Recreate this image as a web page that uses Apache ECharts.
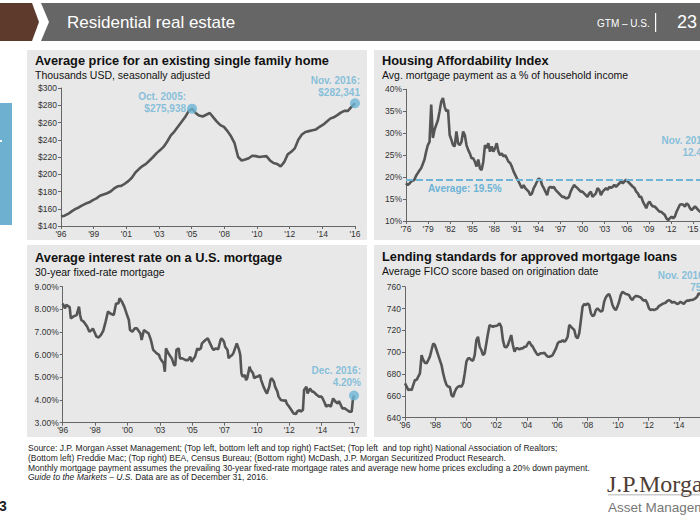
<!DOCTYPE html>
<html><head><meta charset="utf-8">
<script src="https://cdn.jsdelivr.net/npm/echarts@6/dist/echarts.min.js"></script>
<style>html,body{margin:0;padding:0;background:#fff}#c{width:700px;height:525px}</style>
</head><body><div id="c"></div>
<script>
// ---------------- DATA ----------------
// Top left: average price of an existing single family home (thousands USD), evenly sampled Jan 1996 - Nov 2016
const priceStart = 1996.0, priceEnd = 2016.87;
const priceValues = [151,152,154,157,159.5,161.5,164,166,167.5,170,
  172,175,176.5,178,180,183.5,186,186.5,189,192,
  196,202,206,209.5,212,216,220,224.5,228,232,
  238,245,249.5,255,260.5,266,273,276,271,268,
  267,269,271,266,261,257,255,250,244,236,
  220,216,217,218.5,221.5,221,220,220.5,221,216,
  213,212,209,214,223,226,230,240,246,249,
  250,251,252,255,257.5,261,264.5,266,268.5,271.5,
  273.5,273.5,278,282.3];
const priceTickLabels = ["'96","'99","'01","'03","'05","'08","'10","'12","'14","'16"];
const priceCallouts = ['Oct. 2005:\n$275,938', 'Nov. 2016:\n$282,341'];

// Top right: housing affordability index (% of household income), evenly sampled 1976 - Nov 2016
const haiStart = 1976.0, haiEnd = 2016.87;
const haiValues = [18.6,18.2,18.5,19.0,19.2,19.4,20.3,20.9,21.5,22.0,
  23.0,24.0,25.8,27.3,28.0,36.5,28.9,30.8,31.9,33.0,
  35.0,37.2,38.0,36.0,35.0,35.3,29.6,28.5,27.3,27.0,
  30.4,27.7,27.3,28.0,30.4,29.6,27.3,26.2,25.4,24.3,
  24.3,23.5,22.4,24.0,22.0,21.6,23.5,27.3,26.6,27.7,
  25.8,27.0,25.8,26.6,27.7,25.8,25.0,25.4,24.7,25.0,
  24.3,23.5,23.2,22.4,21.3,20.5,19.7,19.0,18.2,17.5,
  18.2,17.5,17.1,16.7,15.9,16.3,17.5,18.2,19.0,19.7,
  19.4,18.2,17.5,16.7,15.9,17.5,17.8,17.5,17.8,17.1,
  16.7,16.3,15.9,15.5,15.5,15.2,15.2,15.5,16.7,17.5,
  18.2,17.8,17.5,17.1,16.7,16.7,16.3,15.9,15.5,16.3,
  16.7,15.5,15.9,16.3,17.5,17.1,15.9,16.7,17.1,17.5,
  17.1,17.8,17.5,17.8,18.2,17.8,18.2,18.6,19.0,18.6,
  19.0,19.4,19.0,18.6,18.2,17.8,17.5,16.7,16.3,15.5,
  15.5,14.4,13.7,12.9,14.0,14.4,13.7,13.3,13.3,12.9,
  12.5,12.1,12.1,11.7,11.4,10.6,10.2,10.6,11.0,10.6,
  11.0,12.1,12.9,13.7,13.8,13.7,13.3,14.0,13.7,12.9,
  12.5,12.9,13.3,12.9,12.5,12.1,12.1,12.3,12.4,12.4];
const haiAverage = 19.5;
const haiTickYears = [1976,1979,1982,1985,1988,1991,1994,1997,2000,2003,2006,2009,2012,2015];
const haiCallout = 'Nov. 2016:\n12.4%';
const haiAverageLabel = 'Average: 19.5%';

// Bottom left: 30-year fixed mortgage rate (%), months since Jan 1996
const rateStart = 1996.0;
const rateMonths = [0,2,3,6,7,9,12,14,15,16,18,21,23,25,26,29,31,33,35,37,39,41,44,46,48,49,51,53,55,57,58,60,62,64,67,68,70,72,74,76,78,81,83,84,85,87,88,89,91,93,94,96,97,98,100,101,103,106,108,110,111,113,114,116,117,119,120,123,125,127,129,130,132,134,136,137,139,140,142,143,144,146,147,149,150,152,153,154,155,157,158,159,161,162,164,165,167,168,170,171,173,175,176,178,179,180,182,183,185,186,188,191,192,193,195,197,199,201,202,204,205,207,208,210,211,213,215,216,219,221,223,224,226,227,229,231,233,235,237,238,239,241,243,245,247,249,250,251];
const rateValues = [8.26,8.04,8.2,8.1,7.6,7.68,7.75,8.12,7.75,7.53,7.46,7.24,7.01,7.09,7.16,6.8,6.76,6.87,7.06,7.46,7.9,7.82,7.75,8.26,8.26,8.49,8.34,8.12,7.82,7.53,7.09,7.01,7.16,7.16,6.94,6.65,7.09,7.01,6.94,6.65,6.21,6.06,5.99,5.84,5.76,5.62,5.25,6.28,6.06,5.91,5.84,5.54,5.54,6.21,6.28,5.84,5.84,5.76,5.76,5.91,5.69,5.84,5.91,6.28,6.21,6.28,6.5,6.65,6.72,6.5,6.28,6.21,6.28,6.24,6.65,6.72,6.57,6.35,6.21,5.84,5.91,5.99,6.06,6.35,6.5,6.21,5.99,5.18,5.03,5.1,4.88,4.96,5.47,5.32,5.18,4.96,5.03,5.03,5.1,4.88,4.59,4.37,4.29,4.59,4.88,4.96,4.81,4.59,4.37,4.15,4.0,3.97,4.0,3.85,3.71,3.56,3.41,3.38,3.49,3.56,3.49,3.56,4.44,4.59,4.29,4.51,4.37,4.37,4.22,4.15,4.15,4.07,3.85,3.71,3.78,3.71,4.07,3.93,3.85,3.96,3.85,3.63,3.63,3.56,3.49,3.49,4.0,4.2];
const rateTickLabels = ["'96","'98","'00","'03","'05","'07","'10","'12","'14","'17"];
const rateCallout = 'Dec. 2016:\n4.20%';

// Bottom right: average FICO score at origination, evenly sampled 1996 - 2016
const ficoStart = 1996.0, ficoEnd = 2016.5;
const ficoValues = [671.4,668.4,665.3,666,665.3,670,674.5,674.5,677.6,680.6,
  697.4,692.8,690.4,689.8,692.8,695.9,702,708,706.6,702,
  697.4,692.8,688.2,680.6,674.5,670,668.4,668.4,660.8,659.2,
  663.8,666.9,668.4,669,668.4,671.4,680.6,691.3,694.3,694.3,
  692.8,692.2,697.4,711.1,714.2,705,702,697.4,699,708,
  717.2,724.9,724,723.3,724,724,724.9,726.4,723.3,711.1,
  705,704.4,706.6,711.1,715.7,706.6,700.5,703.5,703.5,702.6,
  703.5,703.5,705,705,708,709.6,706.6,705,702,699.5,
  697.4,698.3,699,699,699.5,697.4,695.9,695.9,696.5,697.4,
  700.5,703.5,708,709.6,709.6,711.1,709.6,711.1,714.2,724.9,
  723.3,721.8,720.3,714.2,712.7,717.2,729.4,741.7,744.1,743.2,
  744.7,743.2,735.6,733.1,734,738.6,740.1,738.6,737.1,738,
  746.2,750.2,752.3,753.3,749.3,743.2,740.1,738.6,741.7,746.2,
  752.3,755.4,754.4,753.3,753,752.3,749.3,747.8,750.2,751.4,
  751.4,750.8,750.2,748.4,747.2,747.8,744.7,740.1,738.6,739.2,
  738.6,739.2,740.1,742.3,743.2,744.1,744.7,745.3,746.9,747.8,
  746.9,745.3,746.2,745.3,744.1,744.7,746.2,745.3,744.1,746.2,
  747.2,747.2,747.8,747.8,748.4,749.3,750.8,753.9,
  753,752,751,750,750,751,752,752,751,751,751];
const ficoTickYears = [1996,1998,2000,2002,2004,2006,2008,2010,2012,2014,2016];
const ficoCallout = 'Nov. 2016:\n751';

const panelTitles = [
  ['Average price for an existing single family home', 'Thousands USD, seasonally adjusted'],
  ['Housing Affordability Index', 'Avg. mortgage payment as a % of household income'],
  ['Average interest rate on a U.S. mortgage', '30-year fixed-rate mortgage'],
  ['Lending standards for approved mortgage loans', 'Average FICO score based on origination date']
];
const footerLines = [
  'Source: J.P. Morgan Asset Management; (Top left, bottom left and top right) FactSet; (Top left  and top right) National Association of Realtors;',
  '(Bottom left) Freddie Mac; (Top right) BEA, Census Bureau; (Bottom right) McDash, J.P. Morgan Securitized Product Research.',
  'Monthly mortgage payment assumes the prevailing 30-year fixed-rate mortgage rates and average new home prices excluding a 20% down payment.'
];
const footerItalic = 'Guide to the Markets – U.S.';
const footerTail = ' Data are as of December 31, 2016.';

// ---------------- HELPERS ----------------
const FONT = 'Arial, "Liberation Sans", Helvetica, sans-serif';
const LINE = '#555555';
const ACCENT = '#6db4d6';
const AXIS = '#666';
const PANEL = '#e8e8e8';

function evenDates(a, b, n) { const o = []; for (let i = 0; i < n; i++) o.push(a + (b - a) * i / (n - 1)); return o; }
function pairs(xs, ys) { return ys.map((v, i) => [xs[i], v]); }
function nearestIdx(ticks, v) { let b = 0; ticks.forEach((t, i) => { if (Math.abs(t - v) < Math.abs(ticks[b] - v)) b = i; }); return b; }

const priceDates = evenDates(priceStart, priceEnd, priceValues.length);
const priceTicks = evenDates(priceStart, priceEnd, priceTickLabels.length);
const haiDates = evenDates(haiStart, haiEnd, haiValues.length);
const rateDates = rateMonths.map(m => rateStart + m / 12);
const rateEnd = rateDates[rateDates.length - 1];
const rateTicks = evenDates(rateStart, rateEnd, rateTickLabels.length);
const ficoDates = evenDates(ficoStart, ficoEnd, ficoValues.length);

let peakIdx = 0; priceValues.forEach((v, i) => { if (i < 60 && v > priceValues[peakIdx]) peakIdx = i; });

function xAxis(gi, min, max, ticks, fmt) {
  return { type: 'value', gridIndex: gi, min, max,
    axisLine: { show: true, onZero: false, lineStyle: { color: AXIS, width: 1 } },
    axisTick: { show: true, customValues: ticks, length: 3, lineStyle: { color: AXIS } },
    axisLabel: { customValues: ticks, formatter: fmt, fontSize: 8.5, color: '#333', margin: 3, fontFamily: FONT },
    splitLine: { show: false } };
}
function yAxis(gi, min, max, interval, fmt) {
  return { type: 'value', gridIndex: gi, min, max, interval,
    axisLine: { show: true, onZero: false, lineStyle: { color: AXIS, width: 1 } },
    axisTick: { show: true, length: 3, lineStyle: { color: AXIS } },
    axisLabel: { formatter: fmt, fontSize: 8.5, color: '#333', margin: 4, fontFamily: FONT },
    splitLine: { show: false } };
}
function lineSeries(gi, data, extra) {
  return Object.assign({ type: 'line', xAxisIndex: gi, yAxisIndex: gi, data, showSymbol: false, symbol: 'none',
    lineStyle: { color: LINE, width: 2.6 }, silent: true, animation: false, z: 3 }, extra || {});
}
function calloutLabel(text, pos, dist, off) {
  return { show: true, formatter: text, position: pos, distance: dist, offset: off, align: 'right',
    color: ACCENT, fontWeight: 'bold', fontSize: 10, lineHeight: 12, fontFamily: FONT };
}
function markers(gi, items) {
  return { type: 'scatter', xAxisIndex: gi, yAxisIndex: gi, symbol: 'circle', symbolSize: 10,
    itemStyle: { color: ACCENT }, silent: true, animation: false, z: 5, data: items };
}

const titles = [[35, 53], [382, 53], [35, 250], [382, 249]].map((p, i) => ({
  text: panelTitles[i][0], subtext: panelTitles[i][1], left: p[0], top: p[1], padding: 0, itemGap: 0,
  textStyle: { fontFamily: FONT, fontSize: 12.8, fontWeight: 'bold', color: '#111', lineHeight: 15 },
  subtextStyle: { fontFamily: FONT, fontSize: 10.5, color: '#111', lineHeight: 13 }
}));

const graphic = [
  // panels
  { type: 'rect', z: -100, shape: { x: 27, y: 50, width: 340, height: 190 }, style: { fill: PANEL } },
  { type: 'rect', z: -100, shape: { x: 374, y: 50, width: 340, height: 190 }, style: { fill: PANEL } },
  { type: 'rect', z: -100, shape: { x: 27, y: 245, width: 340, height: 192 }, style: { fill: PANEL } },
  { type: 'rect', z: -100, shape: { x: 374, y: 245, width: 340, height: 192 }, style: { fill: PANEL } },
  // header
  { type: 'polygon', z: -100, shape: { points: [[0, 3], [32, 3], [39, 22], [32, 41], [0, 41]] }, style: { fill: '#5d3a2c' } },
  { type: 'polygon', z: -100, shape: { points: [[41, 3], [700, 3], [700, 41], [41, 41], [49, 22]] }, style: { fill: '#666666' } },
  { type: 'text', x: 67, y: 22, style: { text: 'Residential real estate', fill: '#fff', fontSize: 17, fontFamily: FONT, verticalAlign: 'middle' } },
  { type: 'text', x: 597, y: 23, style: { text: 'GTM – U.S.', fill: '#fff', fontSize: 10, fontFamily: '"Liberation Sans Narrow","Arial Narrow",' + FONT, verticalAlign: 'middle' } },
  { type: 'rect', shape: { x: 655, y: 13, width: 1.2, height: 19 }, style: { fill: '#fff' } },
  { type: 'text', x: 677, y: 22, style: { text: '23', fill: '#fff', fontSize: 18, fontFamily: FONT, verticalAlign: 'middle' } },
  // left tab
  { type: 'rect', z: -100, shape: { x: 0, y: 103, width: 12, height: 122 }, style: { fill: '#6db0cf' } },
  { type: 'rect', shape: { x: 0, y: 140, width: 2, height: 2 }, style: { fill: '#fff' } },
  // footer
  ...footerLines.map((t, i) => ({ type: 'text', x: 28, y: 448 + i * 9.8, style: { text: t, fill: '#222', fontSize: 8.5, fontFamily: FONT, verticalAlign: 'middle' } })),
  { type: 'text', x: 28, y: 448 + 3 * 9.8, style: { text: '{i|' + footerItalic + '}' + footerTail, fill: '#222', fontSize: 8.5, fontFamily: FONT, verticalAlign: 'middle',
      rich: { i: { fontStyle: 'italic', fontSize: 8.5, fontFamily: FONT, fill: '#222' } } } },
  { type: 'text', x: -1, y: 506, style: { text: '3', fill: '#222', fontSize: 14, fontWeight: 'bold', fontFamily: FONT, verticalAlign: 'middle' } },
  // logo
  { type: 'text', x: 607, y: 484, style: { text: 'J.P.Morgan', fill: '#4e3d34', fontSize: 24, fontFamily: '"Liberation Serif","Times New Roman",serif', verticalAlign: 'middle' } },
  { type: 'rect', shape: { x: 608, y: 494.5, width: 100, height: 0.8 }, style: { fill: '#999' } },
  { type: 'text', x: 608, y: 507, style: { text: 'Asset Management', fill: '#777', fontSize: 13.5, fontFamily: FONT, verticalAlign: 'middle' } }
];

const option = {
  animation: false,
  backgroundColor: '#fff',
  textStyle: { fontFamily: FONT },
  title: titles,
  graphic: graphic,
  grid: [
    { left: 61, top: 88, width: 294, height: 138, outerBoundsMode: 'none' },
    { left: 406, top: 89.3, width: 301, height: 131.7, outerBoundsMode: 'none' },
    { left: 62.7, top: 286.7, width: 291.3, height: 136, outerBoundsMode: 'none' },
    { left: 405, top: 286.7, width: 312, height: 131, outerBoundsMode: 'none' }
  ],
  xAxis: [
    xAxis(0, priceStart, priceEnd, priceTicks, v => priceTickLabels[nearestIdx(priceTicks, v)]),
    xAxis(1, haiStart, 2016.9, haiTickYears, v => "'" + String(Math.round(v)).slice(2)),
    xAxis(2, rateStart, rateEnd, rateTicks, v => rateTickLabels[nearestIdx(rateTicks, v)]),
    xAxis(3, ficoStart, ficoEnd, ficoTickYears, v => "'" + String(Math.round(v)).slice(2))
  ],
  yAxis: [
    yAxis(0, 140, 300, 20, v => '$' + v),
    yAxis(1, 10, 40, 5, v => v + '%'),
    yAxis(2, 3, 9, 1, v => v.toFixed(2) + '%'),
    yAxis(3, 640, 760, 20, v => String(v))
  ],
  series: [
    lineSeries(0, pairs(priceDates, priceValues)),
    markers(0, [
      { value: [priceDates[peakIdx], priceValues[peakIdx]], label: calloutLabel(priceCallouts[0], 'left', 1, [0, -6]) },
      { value: [priceEnd, priceValues[priceValues.length - 1]], label: calloutLabel(priceCallouts[1], 'left', 0, [10, -17]) }
    ]),
    lineSeries(1, pairs(haiDates, haiValues), {
      markLine: { silent: true, symbol: 'none', animation: false,
        lineStyle: { color: ACCENT, width: 2, type: [7, 3] },
        label: { show: true, formatter: haiAverageLabel, position: 'insideStartBottom', distance: [22, 4],
          color: ACCENT, fontWeight: 'bold', fontSize: 10, fontFamily: FONT },
        data: [{ yAxis: haiAverage }] } }),
    markers(1, [
      { value: [haiEnd, haiValues[haiValues.length - 1]], label: calloutLabel(haiCallout, 'left', 0, [9, -64]) }
    ]),
    lineSeries(2, pairs(rateDates, rateValues)),
    markers(2, [
      { value: [rateEnd, rateValues[rateValues.length - 1]], label: calloutLabel(rateCallout, 'left', 0, [12, -19]) }
    ]),
    lineSeries(3, pairs(ficoDates, ficoValues)),
    markers(3, [
      { value: [ficoEnd, ficoValues[ficoValues.length - 1]], label: calloutLabel(ficoCallout, 'left', 0, [-5, -15]) }
    ])
  ]
};

const chart = echarts.init(document.getElementById('c'), null, { renderer: 'svg', width: 700, height: 525 });
chart.setOption(option);
</script></body></html>
